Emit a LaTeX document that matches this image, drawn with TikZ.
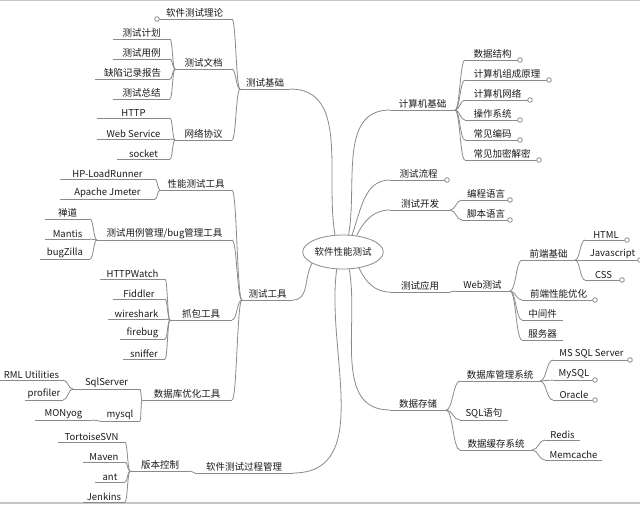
\documentclass[tikz,border=0pt]{standalone}
\usepackage{fontspec}
\setmainfont{Noto Sans CJK SC}
\usetikzlibrary{calc,shapes.geometric}
\definecolor{ln}{HTML}{8A8A8A}
\definecolor{tx}{HTML}{1A1A1A}
\tikzset{
 ln/.style={draw=ln,line width=0.8pt},
 txt/.style={anchor=south,inner sep=1.2pt,text=tx,font=\fontsize{9.5}{11}\selectfont},
 knob/.style={ln,fill=white}
}
\newcommand\itm[5]{%
 \coordinate (#1-l) at (#2,#4); \coordinate (#1-r) at (#3,#4);
 \draw[ln] (#1-l)--(#1-r);
 \node[txt] (#1) at ({(#2+#3)/2},#4) {#5};}
\newcommand\con[2]{\draw[ln] (#1) .. controls ($(#1)!0.5!(#1-|#2)$) and ($(#2)!0.5!(#2-|#1)$) .. (#2);}
\newcommand\kb[1]{\draw[knob] (#1) circle (2.3);}
\begin{document}
\begin{tikzpicture}[x=1pt,y=-1pt]
\useasboundingbox (0,0) rectangle (640,504);
\fill[white] (0,0) rectangle (640,504);
\draw[ln!50,line width=1.5pt] (0,0.5)--(640,0.5) (0,503)--(640,503);
% center
\node[ellipse,draw=ln,line width=0.8pt,fill=white,minimum width=80pt,minimum height=34pt,inner sep=0pt,text=tx,font=\fontsize{9.5}{11}\selectfont] (C) at (343,252) {软件性能测试};
% ---- left ----
\itm{jc}{240}{290}{89}{测试基础}
\itm{ll}{157}{232}{19}{软件测试理论}
\itm{wd}{175}{232}{69}{测试文档}
\itm{jh}{113}{170}{39}{测试计划}
\itm{yl}{113}{170}{59}{测试用例}
\itm{qx}{95}{170}{79}{缺陷记录报告}
\itm{zj}{113}{170}{99}{测试总结}
\itm{wl}{175}{232}{140}{网络协议}
\itm{http}{97}{170}{118}{HTTP}
\itm{ws}{97}{170}{139}{Web Service}
\itm{sk}{117}{170}{159}{socket}
\itm{gj}{242}{293}{300}{测试工具}
\itm{xn}{160}{232}{190}{性能测试工具}
\itm{lr}{60}{155}{179}{HP-LoadRunner}
\itm{jm}{60}{155}{199}{Apache Jmeter}
\itm{bug}{97}{232}{240}{测试用例管理/bug管理工具}
\itm{cd}{45}{90}{219}{禅道}
\itm{mt}{45}{90}{239}{Mantis}
\itm{bz}{40}{90}{259}{bugZilla}
\itm{zb}{170}{232}{320}{抓包工具}
\itm{hw}{100}{165}{279}{HTTPWatch}
\itm{fd}{113}{165}{299}{Fiddler}
\itm{wsk}{108}{165}{319}{wireshark}
\itm{fb}{120}{165}{339}{firebug}
\itm{sn}{123}{165}{359}{sniffer}
\itm{sj}{142}{232}{400}{数据库优化工具}
\itm{sq}{73}{140}{389}{SqlServer}
\itm{rml}{0}{63}{380}{RML Utilities}
\itm{pf}{25}{63}{400}{profiler}
\itm{my}{100}{140}{421}{mysql}
\itm{mon}{35}{92}{420}{MONyog}
\itm{gl}{195}{293}{473}{软件测试过程管理}
\itm{bb}{130}{190}{471}{版本控制}
\itm{svn}{58}{125}{442}{TortoiseSVN}
\itm{mv}{83}{125}{462}{Maven}
\itm{ant}{95}{125}{482}{ant}
\itm{jk}{83}{125}{502}{Jenkins}
\foreach \c in {ll,wd,wl}{\con{jc-l}{\c-r}}
\foreach \c in {jh,yl,qx,zj}{\con{wd-l}{\c-r}}
\foreach \c in {http,ws,sk}{\con{wl-l}{\c-r}}
\foreach \c in {xn,bug,zb,sj}{\con{gj-l}{\c-r}}
\foreach \c in {lr,jm}{\con{xn-l}{\c-r}}
\foreach \c in {cd,mt,bz}{\con{bug-l}{\c-r}}
\foreach \c in {hw,fd,wsk,fb,sn}{\con{zb-l}{\c-r}}
\foreach \c in {sq,my}{\con{sj-l}{\c-r}}
\foreach \c in {rml,pf}{\con{sq-l}{\c-r}}
\con{my-l}{mon-r}
\con{gl-l}{bb-r}
\foreach \c in {svn,mv,ant,jk}{\con{bb-l}{\c-r}}
\kb{ll-l}
% ---- right ----
\itm{jsj}{390}{455}{110}{计算机基础}
\itm{r1}{465}{520}{60}{数据结构}
\itm{r2}{465}{549}{80}{计算机组成原理}
\itm{r3}{465}{530}{100}{计算机网络}
\itm{r4}{465}{520}{120}{操作系统}
\itm{r5}{465}{520}{140}{常见编码}
\itm{r6}{465}{539}{160}{常见加密解密}
\itm{lc}{390}{447}{180}{测试流程}
\itm{kf}{390}{450}{210}{测试开发}
\itm{bc}{462}{510}{200}{编程语言}
\itm{jb}{462}{510}{220}{脚本语言}
\itm{yy}{390}{450}{292}{测试应用}
\itm{web}{455}{510}{291}{Web测试}
\itm{qd}{522}{575}{260}{前端基础}
\itm{html}{585}{627}{240}{HTML}
\itm{js}{585}{640}{260}{Javascript}
\itm{css}{585}{622}{280}{CSS}
\itm{yh}{522}{595}{300}{前端性能优化}
\itm{zjj}{522}{563}{320}{中间件}
\itm{fwq}{522}{563}{340}{服务器}
\itm{cc}{390}{446}{410}{数据存储}
\itm{gls}{460}{540}{381}{数据库管理系统}
\itm{mss}{553}{630}{360}{MS SQL Server}
\itm{mys}{553}{595}{380}{MySQL}
\itm{orc}{553}{595}{400}{Oracle}
\itm{sql}{460}{508}{420}{SQL语句}
\itm{hc}{460}{532}{450}{数据缓存系统}
\itm{rd}{545}{580}{440}{Redis}
\itm{mc}{545}{602}{460}{Memcache}
\foreach \c in {r1,r2,r3,r4,r5,r6}{\con{jsj-r}{\c-l}}
\foreach \c in {bc,jb}{\con{kf-r}{\c-l}}
\con{yy-r}{web-l}
\foreach \c in {qd,yh,zjj,fwq}{\con{web-r}{\c-l}}
\foreach \c in {html,js,css}{\con{qd-r}{\c-l}}
\foreach \c in {gls,sql,hc}{\con{cc-r}{\c-l}}
\foreach \c in {mss,mys,orc}{\con{gls-r}{\c-l}}
\foreach \c in {rd,mc}{\con{hc-r}{\c-l}}
\foreach \c in {r1,r2,r3,r4,r5,r6,lc,bc,jb,html,js,css,yh,mss,mys,orc}{\kb{\c-r}}
% ---- center connectors ----
\draw[ln] (C.72) to[out=80,in=180] (jsj-l);
\draw[ln] (C.62) to[out=70,in=180] (lc-l);
\draw[ln] (C.50) to[out=65,in=180] (kf-l);
\draw[ln] (C.-45) to[out=-65,in=180] (yy-l);
\draw[ln] (C.-70) to[out=-80,in=180] (cc-l);
\draw[ln] (C.115) to[out=100,in=0] (jc-r);
\draw[ln] (C.200) to[out=240,in=0] (gj-r);
\draw[ln] (C.250) to[out=262,in=0] (gl-r);
\end{tikzpicture}
\end{document}
